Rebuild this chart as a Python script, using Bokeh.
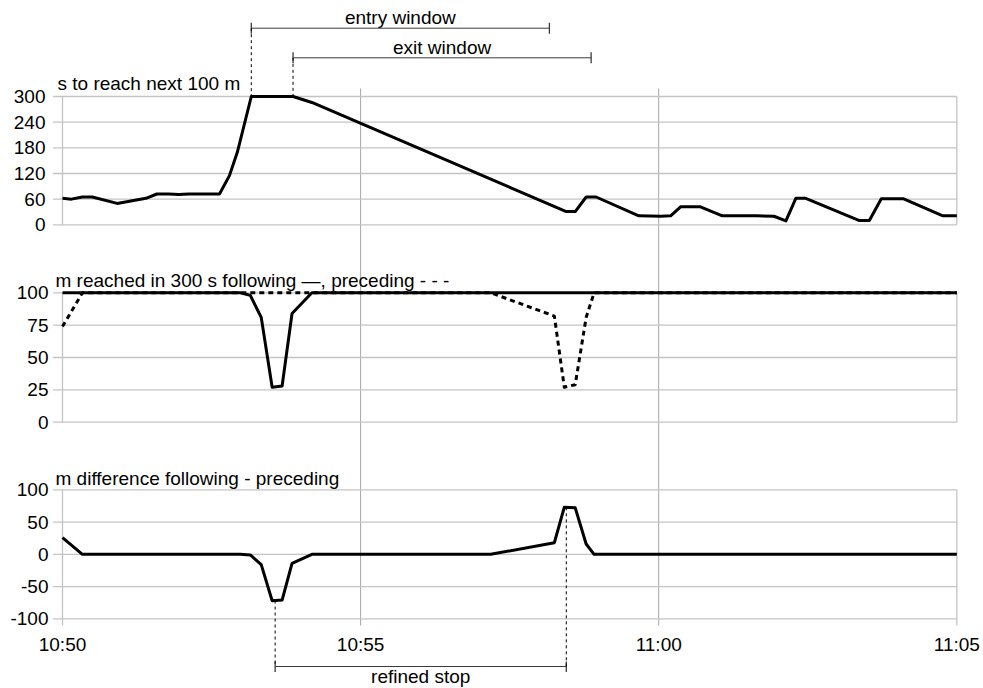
import numpy as np
from bokeh.plotting import figure
from bokeh.models import Range1d
from bokeh.core.properties import value
from bokeh.embed import file_html
from bokeh.resources import INLINE

# ---------------- data (time = seconds after 10:50:00) ----------------
# panel 1: seconds needed to reach the next 100 m
t_reach = [0, 9, 20, 30, 55, 84, 95, 107, 117, 127, 158, 168, 176, 190, 232, 251,
           507, 516, 527, 537, 580, 602, 612, 622, 642, 664, 698, 716, 728, 738,
           748, 802, 812, 824, 846, 886, 900]
s_reach = [62, 60, 65, 65, 50, 62, 72, 72, 71, 72, 72, 115, 170, 300, 300, 286,
           31, 31, 65, 65, 21, 20, 21, 42, 42, 21, 21, 20, 9, 62,
           62, 10, 10, 61, 61, 21, 21]

# panel 2: metres reached in 300 s, following (solid) and preceding (dashed)
t_follow = [0, 179, 189, 200, 211, 221, 231, 251, 900]
m_follow = [100, 100, 98, 81, 27, 28, 84, 100, 100]
t_prec = [0, 20, 431, 495, 505, 516, 527, 535, 900]
m_prec = [74, 100, 100, 82, 27, 29, 81, 100, 100]

# panel 3: difference following - preceding
t_diff = [0, 20, 179, 189, 200, 211, 221, 231, 251, 431, 495, 505, 516, 527, 535, 900]
m_diff = [26, 0, 0, -1, -16, -72, -71, -14, 0, 0, 18, 73, 72, 16, 0, 0]

x_ticks = [0, 300, 600, 900]
x_tick_labels = ["10:50", "10:55", "11:00", "11:05"]
p1_ticks = [0, 60, 120, 180, 240, 300]
p2_ticks = [0, 25, 50, 75, 100]
p3_ticks = [-100, -50, 0, 50, 100]

p1_title = "s to reach next 100 m"
p2_title = "m reached in 300 s following \u2014, preceding - - -"
p3_title = "m difference following - preceding"

win_labels = ["entry window", "exit window"]
win_start = [190, 232]
win_end = [490, 532]
stop_label = ["refined stop"]
stop_start = [214]
stop_end = [507]

# ---------------- layout (canvas pixels) ----------------
W, H = 983, 688
X_LEFT, X_RIGHT = 62.0, 956.3          # canvas x of 10:50 and 11:05
P1 = (300, 96.0, 0, 224.3)             # top value, top y, bottom value, bottom y
P2 = (100, 292.3, 0, 421.7)
P3 = (100, 489.3, -100, 618.3)
FONT = value("Liberation Sans")
FS = value("19px")
GRID = "#c4c4c4"
VGRID = "#a6a6a6"
BRACKET = "#3a3a3a"

kx = (X_RIGHT - X_LEFT) / (x_ticks[-1] - x_ticks[0])
x_start = x_ticks[0] - X_LEFT / kx
x_end = x_ticks[-1] + (W - X_RIGHT) / kx


def panel_range(top_v, top_y, bot_v, bot_y):
    k = (bot_y - top_y) / (top_v - bot_v)
    return Range1d(start=bot_v - (H - bot_y) / k, end=top_v + top_y / k)


def to_units(y_canvas, panel):
    top_v, top_y, bot_v, bot_y = panel
    k = (bot_y - top_y) / (top_v - bot_v)
    return top_v - (y_canvas - top_y) / k


p = figure(width=W, height=H, output_backend="svg", toolbar_location=None,
           x_range=Range1d(x_start, x_end), y_range=Range1d(H, 0),
           x_axis_location=None, y_axis_location=None, min_border=0,
           outline_line_color=None, background_fill_color="white",
           border_fill_color="white")
p.grid.visible = False
p.extra_y_ranges = {"p1": panel_range(*P1), "p2": panel_range(*P2), "p3": panel_range(*P3)}

x_lo, x_hi = x_ticks[0], x_ticks[-1]
tick_ext = 9.5 / kx

# long vertical grid lines through all panels
inner = x_ticks[1:-1]
p.segment(x0=inner, x1=inner, y0=[88] * len(inner), y1=[625] * len(inner),
          line_color=VGRID, line_width=1)

panels = [("p1", P1, p1_ticks, -17, p1_title, -5, -12.7),
          ("p2", P2, p2_ticks, -14, p2_title, -7, -12.3),
          ("p3", P3, p3_ticks, -14, p3_title, -7, -11.8)]
for name, P, ticks, lab_off, title, title_dx, title_dy in panels:
    n = len(ticks)
    p.segment(x0=[x_lo - tick_ext] * n, x1=[x_hi] * n, y0=ticks, y1=ticks,
              y_range_name=name, line_color=GRID, line_width=1.3)
    p.segment(x0=[x_lo, x_hi], x1=[x_lo, x_hi], y0=[min(ticks)] * 2, y1=[max(ticks)] * 2,
              y_range_name=name, line_color=GRID, line_width=1.3)
    p.text(x=[x_lo] * n, y=ticks, text=[str(t) for t in ticks], y_range_name=name,
           x_offset=lab_off, text_align="right", text_baseline="middle",
           text_font=FONT, text_font_size=FS, text_color="black")
    p.text(x=[x_lo], y=[max(ticks)], text=[title], y_range_name=name,
           x_offset=title_dx, y_offset=title_dy, text_align="left", text_baseline="middle",
           text_font=FONT, text_font_size=FS, text_color="black")

# tick marks below bottom panel at 10:50 / 11:05
edge = [x_ticks[0], x_ticks[-1]]
p.segment(x0=edge, x1=edge, y0=[P3[3]] * 2, y1=[625] * 2, line_color=GRID, line_width=1.3)

# x tick labels
p.text(x=x_ticks, y=[P3[2]] * len(x_ticks), text=x_tick_labels, y_range_name="p3",
       y_offset=26, text_align="center", text_baseline="middle",
       text_font=FONT, text_font_size=FS, text_color="black")

# data lines
p.line(t_reach, s_reach, y_range_name="p1", line_color="black", line_width=3, line_join="round")
p.line(t_prec, m_prec, y_range_name="p2", line_color="black", line_width=3,
       line_dash="5 4", line_join="round")
p.line(t_follow, m_follow, y_range_name="p2", line_color="black", line_width=3, line_join="round")
p.line(t_diff, m_diff, y_range_name="p3", line_color="black", line_width=3, line_join="round")

# entry / exit window brackets (above)
win_y = [27.7, 57.3]
p.segment(x0=win_start, x1=win_end, y0=win_y, y1=win_y, line_color=BRACKET, line_width=1)
ends_x = win_start + win_end
ends_y = win_y + win_y
p.segment(x0=ends_x, x1=ends_x, y0=[y - 5.5 for y in ends_y], y1=[y + 5.5 for y in ends_y],
          line_color=BRACKET, line_width=1.3)
p.text(x=[(a + b) / 2 for a, b in zip(win_start, win_end)], y=win_y, text=win_labels,
       y_offset=-10.5, text_align="center", text_baseline="middle",
       text_font=FONT, text_font_size=FS, text_color="black")
p.segment(x0=win_start, x1=win_start, y0=win_y, y1=[P1[1]] * len(win_start),
          line_color="black", line_width=1, line_dash="3 3")

# refined stop bracket (below)
stop_y = 666.0
p.segment(x0=stop_start, x1=stop_end, y0=[stop_y], y1=[stop_y], line_color=BRACKET, line_width=1)
s_ends = stop_start + stop_end
p.segment(x0=s_ends, x1=s_ends, y0=[stop_y - 5] * 2, y1=[stop_y + 5.5] * 2,
          line_color=BRACKET, line_width=1.3)
p.text(x=[(stop_start[0] + stop_end[0]) / 2], y=[stop_y], text=stop_label,
       y_offset=10, text_align="center", text_baseline="middle",
       text_font=FONT, text_font_size=FS, text_color="black")
curve_at = list(np.interp(s_ends, t_diff, m_diff))
p.segment(x0=s_ends, x1=s_ends, y0=curve_at, y1=[to_units(stop_y, P3)] * 2,
          y_range_name="p3", line_color="black", line_width=1, line_dash="3 3")

open("out.html", "w").write(file_html(p, INLINE))
